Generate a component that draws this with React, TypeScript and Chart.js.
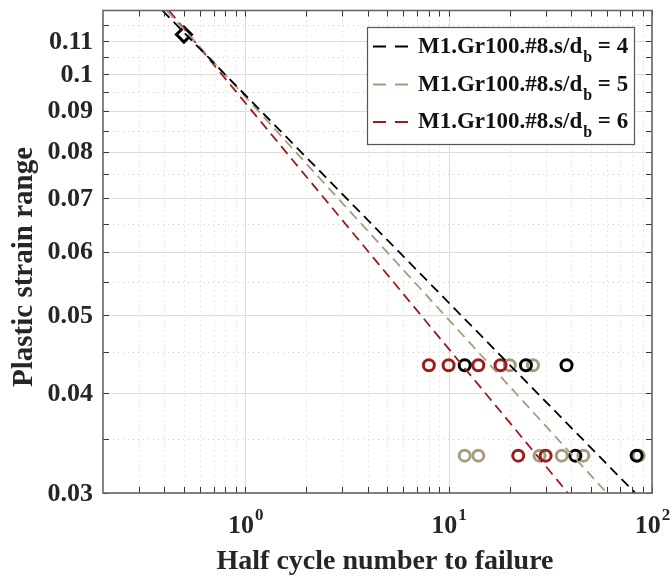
import React, { useEffect, useRef } from "react";
import { Chart, registerables } from "chart.js";

Chart.register(...registerables);

// ---- data ----
const seriesNames = ["M1.Gr100.#8.s/d", "M1.Gr100.#8.s/d", "M1.Gr100.#8.s/d"];
const seriesSub = ["b", "b", "b"];
const seriesSuffix = [" = 4", " = 5", " = 6"];
const seriesColors = ["#000000", "#a59c7c", "#9b1c1c"];

// fitted power-law lines (endpoints)
const fitBlackX = [0.392, 82.7];
const fitBlackY = [0.12, 0.03];
const fitTanX = [0.411, 60.0];
const fitTanY = [0.12, 0.03];
const fitRedX = [0.422, 38.6];
const fitRedY = [0.12, 0.03];

// test points
const blackX = [12, 24, 38, 42, 84];
const blackY = [0.0433, 0.0433, 0.0433, 0.0334, 0.0334];
const redX = [8, 10, 14, 18, 22, 30];
const redY = [0.0433, 0.0433, 0.0433, 0.0433, 0.0334, 0.0334];
const tanX = [20, 26, 12, 14, 28, 36, 46, 86];
const tanY = [0.0433, 0.0433, 0.0334, 0.0334, 0.0334, 0.0334, 0.0334, 0.0334];
const diamondX = [0.5];
const diamondY = [0.112];

// axes
const X_MIN = 0.2;
const X_MAX = 100;
const Y_MIN = 0.03;
const Y_MAX = 0.12;
const xMajor = [1, 10, 100];
const xExpLabels = ["0", "1", "2"];
const xMinor = [0.3, 0.4, 0.5, 0.6, 0.7, 0.8, 0.9, 2, 3, 4, 5, 6, 7, 8, 9, 20, 30, 40, 50, 60, 70, 80, 90];
const yMajor = [0.03, 0.04, 0.05, 0.06, 0.07, 0.08, 0.09, 0.1, 0.11];
const yLabels = ["0.03", "0.04", "0.05", "0.06", "0.07", "0.08", "0.09", "0.1", "0.11"];
const yMinor = [0.035, 0.045, 0.055, 0.065, 0.075, 0.085, 0.095, 0.105, 0.115];
const xTitle = "Half cycle number to failure";
const yTitle = "Plastic strain range";

const FONT = '"Liberation Serif", "Times New Roman", serif';

const zip = (xs: number[], ys: number[]) => xs.map((x, i) => ({ x, y: ys[i] }));

const decorPlugin = {
  id: "decor",
  beforeDatasetsDraw(chart: any) {
    const { ctx, chartArea: a, scales } = chart;
    const xs = scales.x, ys = scales.y;
    ctx.save();
    // minor grid dotted
    ctx.strokeStyle = "#cfcfcf";
    ctx.lineWidth = 1;
    ctx.setLineDash([1, 4]);
    ctx.beginPath();
    xMinor.forEach((v) => {
      const p = Math.round(xs.getPixelForValue(v)) + 0.5;
      ctx.moveTo(p, a.top);
      ctx.lineTo(p, a.bottom);
    });
    yMinor.forEach((v) => {
      const p = Math.round(ys.getPixelForValue(v)) + 0.5;
      ctx.moveTo(a.left, p);
      ctx.lineTo(a.right, p);
    });
    ctx.stroke();
    // major grid solid
    ctx.setLineDash([]);
    ctx.strokeStyle = "#dcdcdc";
    ctx.beginPath();
    xMajor.forEach((v) => {
      const p = Math.round(xs.getPixelForValue(v)) + 0.5;
      ctx.moveTo(p, a.top);
      ctx.lineTo(p, a.bottom);
    });
    yMajor.forEach((v) => {
      const p = Math.round(ys.getPixelForValue(v)) + 0.5;
      ctx.moveTo(a.left, p);
      ctx.lineTo(a.right, p);
    });
    ctx.stroke();
    ctx.restore();
  },
  afterDatasetsDraw(chart: any) {
    const { ctx, chartArea: a, scales } = chart;
    const xs = scales.x, ys = scales.y;
    ctx.save();
    // ticks
    ctx.strokeStyle = "#333333";
    ctx.lineWidth = 1;
    const tl = 6;
    ctx.beginPath();
    [...xMajor, ...xMinor].forEach((v) => {
      const p = Math.round(xs.getPixelForValue(v)) + 0.5;
      ctx.moveTo(p, a.bottom);
      ctx.lineTo(p, a.bottom - tl);
      ctx.moveTo(p, a.top);
      ctx.lineTo(p, a.top + tl);
    });
    [...yMajor, ...yMinor].forEach((v) => {
      const p = Math.round(ys.getPixelForValue(v)) + 0.5;
      ctx.moveTo(a.left, p);
      ctx.lineTo(a.left + tl, p);
      ctx.moveTo(a.right, p);
      ctx.lineTo(a.right - tl, p);
    });
    ctx.stroke();
    // box
    ctx.strokeStyle = "#666666";
    ctx.lineWidth = 1.6;
    ctx.strokeRect(a.left, a.top, a.right - a.left, a.bottom - a.top);

    // y labels
    ctx.fillStyle = "#262626";
    ctx.font = `bold 26px ${FONT}`;
    ctx.textAlign = "right";
    ctx.textBaseline = "middle";
    yMajor.forEach((v, i) => {
      ctx.fillText(yLabels[i], a.left - 10, ys.getPixelForValue(v) + 1);
    });
    // x labels 10^n
    ctx.textBaseline = "alphabetic";
    ctx.textAlign = "left";
    xMajor.forEach((v, i) => {
      const cx = xs.getPixelForValue(v);
      ctx.font = `bold 26px ${FONT}`;
      const w1 = ctx.measureText("10").width;
      ctx.font = `bold 17px ${FONT}`;
      const w2 = ctx.measureText(xExpLabels[i]).width;
      const x0 = cx - (w1 + w2) / 2;
      ctx.font = `bold 26px ${FONT}`;
      ctx.fillText("10", x0, a.bottom + 40);
      ctx.font = `bold 17px ${FONT}`;
      ctx.fillText(xExpLabels[i], x0 + w1 + 1, a.bottom + 27);
    });
    // titles
    ctx.font = `bold 28px ${FONT}`;
    ctx.textAlign = "center";
    ctx.fillText(xTitle, 385, 569);
    ctx.save();
    ctx.translate(25, 267);
    ctx.rotate(-Math.PI / 2);
    ctx.textBaseline = "middle";
    ctx.font = `bold 29px ${FONT}`;
    ctx.fillText(yTitle, 0, 0);
    ctx.restore();

    // legend
    const lx = 367, ly = 27, lw = 267, lh = 117;
    ctx.fillStyle = "#ffffff";
    ctx.fillRect(lx, ly, lw, lh);
    ctx.strokeStyle = "#555555";
    ctx.lineWidth = 1.2;
    ctx.strokeRect(lx + 0.5, ly + 0.5, lw, lh);
    const rowY = [46.5, 84.5, 122];
    seriesNames.forEach((name, i) => {
      const y = rowY[i];
      ctx.strokeStyle = seriesColors[i];
      ctx.lineWidth = 2;
      ctx.setLineDash([]);
      ctx.beginPath();
      ctx.moveTo(373, y);
      ctx.lineTo(386, y);
      ctx.moveTo(395, y);
      ctx.lineTo(408, y);
      ctx.stroke();
      ctx.fillStyle = "#111111";
      ctx.textAlign = "left";
      ctx.textBaseline = "alphabetic";
      ctx.font = `bold 23px ${FONT}`;
      const base = y + 6;
      let x = 418;
      ctx.fillText(name, x, base);
      x += ctx.measureText(name).width;
      ctx.font = `bold 16px ${FONT}`;
      ctx.fillText(seriesSub[i], x + 1, base + 9);
      x += ctx.measureText(seriesSub[i]).width + 1;
      ctx.font = `bold 23px ${FONT}`;
      ctx.fillText(seriesSuffix[i], x, base);
    });
    ctx.restore();
  },
};

export default function App() {
  const ref = useRef<HTMLCanvasElement | null>(null);
  useEffect(() => {
    document.body.style.margin = "0";
    const c = ref.current!;
    const lineDs = (xs: number[], ys: number[], color: string) => ({
      data: zip(xs, ys),
      showLine: true,
      borderColor: color,
      borderWidth: 1.8,
      borderDash: [10, 6],
      pointRadius: 0,
      fill: false,
    });
    const ptDs = (xs: number[], ys: number[], color: string) => ({
      data: zip(xs, ys),
      showLine: false,
      borderColor: color,
      backgroundColor: "rgba(0,0,0,0)",
      borderWidth: 3,
      pointRadius: 5.5,
      pointStyle: "circle",
    });
    const chart = new Chart(c, {
      type: "scatter",
      data: {
        datasets: [
          lineDs(fitBlackX, fitBlackY, seriesColors[0]),
          lineDs(fitTanX, fitTanY, seriesColors[1]),
          lineDs(fitRedX, fitRedY, seriesColors[2]),
          ptDs(blackX, blackY, seriesColors[0]),
          ptDs(redX, redY, seriesColors[2]),
          ptDs(tanX, tanY, seriesColors[1]),
          {
            data: zip(diamondX, diamondY),
            showLine: false,
            borderColor: "#000000",
            backgroundColor: "rgba(0,0,0,0)",
            borderWidth: 3,
            pointRadius: 7.5,
            pointStyle: "rectRot",
          },
        ] as any,
      },
      options: {
        animation: false,
        responsive: false,
        maintainAspectRatio: false,
        layout: { padding: { left: 103, right: 18, top: 8, bottom: 86 } },
        plugins: { legend: { display: false }, tooltip: { enabled: false } },
        scales: {
          x: { type: "logarithmic", min: X_MIN, max: X_MAX, display: false },
          y: { type: "logarithmic", min: Y_MIN, max: Y_MAX, display: false },
        },
      },
      plugins: [decorPlugin],
    });
    return () => chart.destroy();
  }, []);
  return <canvas ref={ref} width={670} height={579} style={{ display: "block" }} />;
}
